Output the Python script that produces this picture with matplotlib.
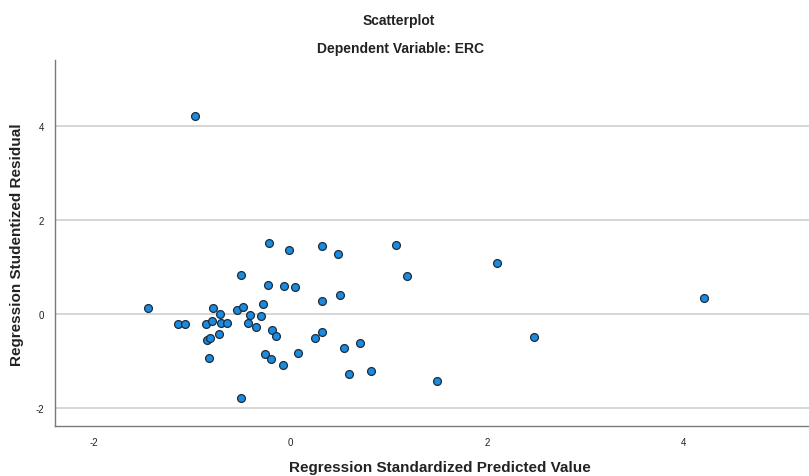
import matplotlib.pyplot as plt
import numpy as np

plt.rcParams['font.family'] = ['Liberation Sans', 'DejaVu Sans']
plt.rcParams['axes.unicode_minus'] = False

# Regression Standardized Predicted Value
pred = [-0.964, -0.213, -0.017, 0.320, 0.480, 1.073, 2.098, -0.497, 1.183, -0.223,
        -0.063, 0.046, 0.320, 0.508, 4.206, -1.445, -0.782, -0.541, -0.480, -0.281,
        -0.718, -0.413, -0.297, -1.144, -1.066, -0.856, -0.799, -0.701, -0.640, -0.429,
        -0.345, -0.183, -0.149, 0.247, 0.325, -0.846, -0.812, -0.721, -0.825, -0.254,
        -0.200, -0.074, 0.076, -0.505, 0.545, 0.708, 0.596, 0.822, 1.492, 2.477]
# Regression Studentized Residual
resid = [4.21, 1.51, 1.36, 1.44, 1.27, 1.47, 1.08, 0.82, 0.80, 0.62,
         0.585, 0.574, 0.277, 0.404, 0.334, 0.121, 0.121, 0.091, 0.143, 0.206,
         -0.006, -0.028, -0.043, -0.213, -0.219, -0.219, -0.155, -0.198, -0.191, -0.198,
         -0.283, -0.340, -0.474, -0.511, -0.377, -0.560, -0.511, -0.432, -0.930, -0.851,
         -0.957, -1.091, -0.830, -1.787, -0.723, -0.611, -1.270, -1.219, -1.426, -0.496]

xticks = [-2, 0, 2, 4]
yticks = [-2, 0, 2, 4]

fig = plt.figure(figsize=(8.09, 4.77), dpi=100)
ax = fig.add_axes([0.068, 0.105, 0.932, 0.767])

# grid lines
for t in yticks:
    ax.axhline(t, color='#d6d6d6', lw=1.4, zorder=1)

ax.scatter(pred, resid, s=32, facecolor='#1a8be0', edgecolor='#1e2d3c',
           linewidths=0.9, zorder=3)

ax.set_xlim(-2.39, 5.27)
ax.set_ylim(-2.38, 5.40)
ax.set_xticks(xticks)
ax.set_yticks(yticks)
ax.tick_params(length=0, labelsize=7, colors='#222222', pad=8)

for s in ['top', 'right']:
    ax.spines[s].set_visible(False)
for s in ['left', 'bottom']:
    ax.spines[s].set_color('#7a7a7a')
    ax.spines[s].set_linewidth(1.0)

fig.text(0.493, 0.957, 'Scatterplot', ha='center', va='center',
         fontsize=10, fontweight='bold', color='#222222')
fig.text(0.495, 0.897, 'Dependent Variable: ERC', ha='center', va='center',
         fontsize=10, fontweight='bold', color='#222222')
fig.text(0.544, 0.018, 'Regression Standardized Predicted Value', ha='center',
         va='center', fontsize=11, fontweight='bold', color='#222222')
fig.text(0.021, 0.487, 'Regression Studentized Residual', ha='center',
         va='center', rotation=90, fontsize=11, fontweight='bold', color='#222222')

plt.savefig('out.png', dpi=100)
